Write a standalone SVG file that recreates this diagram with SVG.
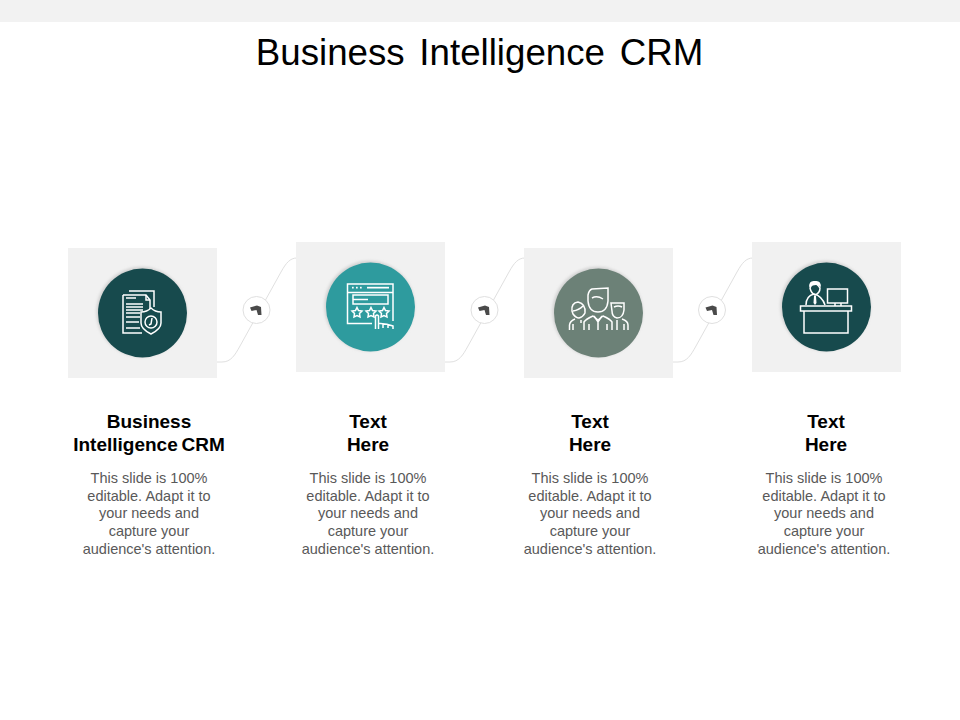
<svg xmlns="http://www.w3.org/2000/svg" width="960" height="720" viewBox="0 0 960 720">
<defs><filter id="soft" x="-20%" y="-20%" width="140%" height="140%"><feGaussianBlur stdDeviation="1.500"/></filter></defs>
<style>
text{font-family:"Liberation Sans",Arial,sans-serif;text-anchor:middle}
.title{font-size:36.700px;fill:#000}
.h{font-size:19px;font-weight:bold;fill:#000}
.b{font-size:14.500px;fill:#595959}
.card{fill:#f1f1f1}
.conn{fill:none;stroke:#e0e0e0;stroke-width:1}
.hub{fill:#fff;stroke:#e0e0e0;stroke-width:1}
.mark{fill:#4a4a4a}
.ic{fill:none;stroke:#fff;stroke-width:1.500}
.icf{fill:#fff}
.sh{fill:#cfcfcf;filter:url(#soft)}
</style>
<rect width="960" height="22" fill="#f2f2f2"/>
<text class="title" x="479.500" y="65" word-spacing="4.500">Business Intelligence CRM</text>
<g id="connectors">
<path class="conn" d="M217 362H222C231 362 235 355 240 346L281 272C286 263 290 258 297 258"/>
<path class="conn" d="M445 362H450C459 362 463 355 468 346L509 272C514 263 518 258 525 258"/>
<path class="conn" d="M673 362H678C687 362 691 355 696 346L737 272C742 263 746 258 753 258"/>
</g>
<g id="hub1"><circle class="hub" cx="256.500" cy="310" r="13.500"/><path class="mark" d="M250 307.500L257 305.500L261 307L261.500 315L258 315L256.500 310L251.500 311Z"/></g>
<g id="hub2"><circle class="hub" cx="484.500" cy="310" r="13.500"/><path class="mark" d="M478 307.500L485 305.500L489 307L489.500 315L486 315L484.500 310L479.500 311Z"/></g>
<g id="hub3"><circle class="hub" cx="712" cy="310" r="13.500"/><path class="mark" d="M705.500 307.500L712.500 305.500L716.500 307L717 315L713.500 315L712 310L707 311Z"/></g>

<g id="node1">
<rect class="card" x="68" y="248" width="149" height="130"/>
<circle class="sh" cx="141.500" cy="312" r="45"/>
<circle cx="142.500" cy="313" r="44.500" fill="#174a4d"/>
<g class="ic">
<path d="M129 291H154V307"/><path d="M123 295H146L150 300V309"/><path d="M146 295V300H150"/>
<path d="M123 295V333H142"/>
<path d="M126 298H136M126 304H143M126 307H143M126 310H143M126 313H140M126 317H140M126 322H139M126 328H140" />
<path d="M141 312Q147 312 151 308Q155 312 161 312V323Q161 329 151 334Q141 329 141 323Z"/>
<circle cx="151" cy="322" r="6"/><path d="M152 318L151 324L149 325"/>
</g>
</g>

<g id="node2">
<rect class="card" x="296" y="242" width="149" height="130"/>
<circle class="sh" cx="369.500" cy="306" r="45"/>
<circle cx="370.500" cy="307" r="44.500" fill="#2e9b9e"/>
<g class="ic">
<path d="M372 323.500H347.500V284H393V321"/><path d="M348 292.500H393"/>
<rect x="353" y="295" width="35" height="9"/>
<path d="M353 299.500H368"/>
<path d="M357 307.500L358.500 310.500L362 311L359.500 313.500L360 317L357 315.500L354 317L354.500 313.500L352 311L355.500 310.500Z"/>
<path d="M371 307.500L372.500 310.500L376 311L373.500 313.500L374 317L371 315.500L368 317L368.500 313.500L366 311L369.500 310.500Z"/>
<path d="M384 307.500L385.500 310.500L389 311L386.500 313.500L387 317L384 315.500L381 317L381.500 313.500L379 311L382.500 310.500Z"/>
<path d="M375.500 329V316Q377 314 378.500 316V329M378.500 323.500Q386 323 393 326V329M383 324V328M388 325V328"/>
</g>
<g class="icf"><rect x="367" y="286.800" width="22" height="1.700"/><rect x="352" y="286.800" width="1.700" height="1.700"/><rect x="356" y="286.800" width="1.700" height="1.700"/><rect x="360" y="286.800" width="1.700" height="1.700"/></g>
</g>

<g id="node3">
<rect class="card" x="524" y="248" width="149" height="130"/>
<circle class="sh" cx="597.500" cy="312" r="45"/>
<circle cx="598.500" cy="313" r="44.500" fill="#6c8177"/>
<g class="ic">
<path d="M592 289L608 288V301Q607 312 598 312Q589 312 588 301V295Q589 290 592 289Z"/>
<path d="M592 298Q597 295 603 299"/>
<path d="M584 330V322Q586 319 593 316L598 320L603 316Q610 319 612 322V330"/>
<path d="M598 320V330M589 324V330M607 324V330M594 316L598 322L602 316"/>
<path d="M611 303H624V310Q623 318 617 318Q612 317 612 311Z"/><path d="M614 307Q618 305 622 307"/>
<path d="M617 320V330M622 319Q628 321 628 325V330M624 324V330"/>
<path d="M578 302Q571 303 572 311L573 314Q576 318 579 318Q583 317 585 313Q586 304 578 302Z"/><path d="M573 311Q579 310 583 306"/>
<path d="M569.500 330V325Q570 321 575 319M573 324V330M581 320V323"/>
</g>
</g>

<g id="node4">
<rect class="card" x="752" y="242" width="149" height="130"/>
<circle class="sh" cx="825.500" cy="306" r="45"/>
<circle cx="826.500" cy="307" r="44.500" fill="#174a4d"/>
<g class="ic">
<rect x="800.500" y="306" width="51" height="5"/>
<path d="M804 311V333H848V311"/>
<rect x="827.500" y="289" width="20" height="14"/>
<path d="M835 303V306M841 303V306"/>
<path d="M806 305Q806 296 814 294Q822 296 825 305"/>
<path d="M810 288Q814 279 820 288Q820 293 815 295Q811 293 810 288Z"/>
</g>
<path class="icf" d="M809 287Q809 280 815 281Q821 280 821 287Q817 283 809 287Z"/>
<path d="M814 296H816L816.500 303L815 305L813.500 303Z" fill="#fff"/>
</g>

<g id="label1">
<text class="h" x="149" y="428">Business</text>
<text class="h" x="149" y="451" word-spacing="-1.500">Intelligence CRM</text>
<text class="b" x="149" y="483">This slide is 100%</text>
<text class="b" x="149" y="501">editable. Adapt it to</text>
<text class="b" x="149" y="518">your needs and</text>
<text class="b" x="149" y="536">capture your</text>
<text class="b" x="149" y="554">audience's attention.</text>
</g>
<g id="label2">
<text class="h" x="368" y="428">Text</text>
<text class="h" x="368" y="451">Here</text>
<text class="b" x="368" y="483">This slide is 100%</text>
<text class="b" x="368" y="501">editable. Adapt it to</text>
<text class="b" x="368" y="518">your needs and</text>
<text class="b" x="368" y="536">capture your</text>
<text class="b" x="368" y="554">audience's attention.</text>
</g>
<g id="label3">
<text class="h" x="590" y="428">Text</text>
<text class="h" x="590" y="451">Here</text>
<text class="b" x="590" y="483">This slide is 100%</text>
<text class="b" x="590" y="501">editable. Adapt it to</text>
<text class="b" x="590" y="518">your needs and</text>
<text class="b" x="590" y="536">capture your</text>
<text class="b" x="590" y="554">audience's attention.</text>
</g>
<g id="label4">
<text class="h" x="826" y="428">Text</text>
<text class="h" x="826" y="451">Here</text>
<text class="b" x="824" y="483">This slide is 100%</text>
<text class="b" x="824" y="501">editable. Adapt it to</text>
<text class="b" x="824" y="518">your needs and</text>
<text class="b" x="824" y="536">capture your</text>
<text class="b" x="824" y="554">audience's attention.</text>
</g>
</svg>
